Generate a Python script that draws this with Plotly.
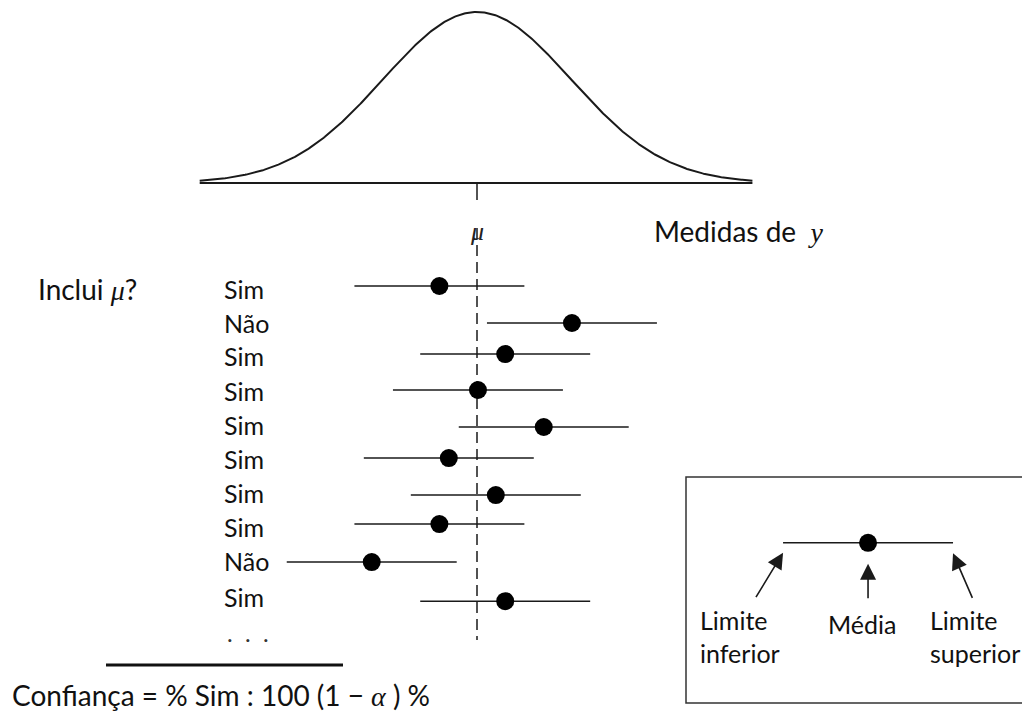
import numpy as np
import plotly.graph_objects as go

# ---------------- data ----------------
mu = 0.0
sigma = 1.0
curve_lo, curve_hi = -2.95, 2.93

row_labels = ["Sim", "Não", "Sim", "Sim", "Sim", "Sim", "Sim", "Sim", "Não", "Sim"]
row_means = [-0.40, 1.01, 0.30, 0.01, 0.71, -0.30, 0.20, -0.40, -1.12, 0.30]
row_pos = [0.0, 1.06, 1.95, 2.98, 4.04, 4.93, 5.99, 6.82, 7.91, 9.03]
label_pos = [0.09, 1.06, 2.0, 3.0, 3.97, 4.96, 5.93, 6.9, 7.88, 8.91]
half_width = 0.904

legend_mean = 4.16
legend_row = 7.36
legend_labels = ["Limite<br>inferior", "Média", "Limite<br>superior"]

dash_top, dash_bottom = -1.66, 10.14

W, H = 1022, 715
UNIT = 94.0      # pixels per x unit
MU_PX = 477.0
FONT = "Lato"
INK = "#111111"

def px(x):
    return x / W

def py(y):
    return 1 - y / H

fig = go.Figure()

# normal curve
xc = np.linspace(curve_lo, curve_hi, 500)
yc = np.exp(-0.5 * ((xc - mu) / sigma) ** 2) / (sigma * np.sqrt(2 * np.pi))
fig.add_trace(go.Scatter(x=xc, y=yc, mode="lines", line=dict(color="#1a1a1a", width=2),
                         xaxis="x", yaxis="y", hoverinfo="skip"))
# baseline
fig.add_trace(go.Scatter(x=[curve_lo, curve_hi], y=[0, 0], mode="lines",
                         line=dict(color="#1a1a1a", width=2), xaxis="x", yaxis="y"))
# tick at mu
fig.add_trace(go.Scatter(x=[mu, mu], y=[0, -0.0397], mode="lines",
                         line=dict(color="#1a1a1a", width=1.5), xaxis="x", yaxis="y"))

# dashed mu line
fig.add_trace(go.Scatter(x=[mu, mu], y=[dash_top, dash_bottom], mode="lines",
                         line=dict(color="#1a1a1a", width=1.5, dash="11px,6px"),
                         xaxis="x", yaxis="y2"))

# intervals
fig.add_trace(go.Scatter(
    x=row_means, y=row_pos, mode="markers",
    marker=dict(color="black", size=18),
    error_x=dict(type="constant", value=half_width, width=0, thickness=1.5, color="#1a1a1a"),
    xaxis="x", yaxis="y2"))

# legend interval
fig.add_trace(go.Scatter(
    x=[legend_mean], y=[legend_row], mode="markers",
    marker=dict(color="black", size=18),
    error_x=dict(type="constant", value=half_width, width=0, thickness=1.5, color="#1a1a1a"),
    xaxis="x", yaxis="y2"))

annotations = []
# row labels
for r, lab in zip(label_pos, row_labels):
    annotations.append(dict(x=px(222), xref="paper", y=r, yref="y2", text=lab,
                            showarrow=False, xanchor="left", yanchor="middle",
                            font=dict(family=FONT, size=25, color=INK)))
annotations.append(dict(x=px(248), xref="paper", y=py(632), yref="paper",
                        text=".\u00a0\u00a0.\u00a0\u00a0.",
                        showarrow=False, xanchor="center", yanchor="middle",
                        font=dict(family=FONT, size=24, color="#333")))

serif_it = "font-family:Liberation Serif;font-style:italic"
annotations += [
    dict(x=px(36), xref="paper", y=py(289), yref="paper",
         text=f"Inclui <span style=\"{serif_it}\">μ</span>?", showarrow=False,
         xanchor="left", yanchor="middle", font=dict(family=FONT, size=28, color=INK)),
    dict(x=mu, xref="x", y=py(232), yref="paper",
         text=f"<span style=\"{serif_it}\">μ</span>", showarrow=False,
         xanchor="center", yanchor="middle", font=dict(family=FONT, size=26, color="#222")),
    dict(x=px(652), xref="paper", y=py(231), yref="paper",
         text=f"Medidas de  <span style=\"{serif_it}\">y</span>", showarrow=False,
         xanchor="left", yanchor="middle", font=dict(family=FONT, size=28, color=INK)),
    dict(x=px(10), xref="paper", y=py(695), yref="paper",
         text=f"Confiança = % Sim : 100 (1 − <span style=\"{serif_it}\">α</span> ) %",
         showarrow=False, xanchor="left", yanchor="middle",
         font=dict(family=FONT, size=28, color=INK)),
]

# legend arrows (head near interval ends / mean)
arrow_heads = [(legend_mean - half_width, legend_row + 0.28, -28, 46),
               (legend_mean, legend_row + 0.6, 0, 36),
               (legend_mean + half_width, legend_row + 0.3, 20, 46)]
for hx, hy, ax, ay in arrow_heads:
    annotations.append(dict(x=hx, xref="x", y=hy, yref="y2", ax=ax, ay=ay,
                            showarrow=True, arrowhead=2, arrowsize=2, arrowwidth=1.6,
                            arrowcolor="#1a1a1a", text=""))
annotations += [
    dict(x=px(698), xref="paper", y=py(636), yref="paper", text=legend_labels[0],
         showarrow=False, xanchor="left", yanchor="middle", align="left",
         font=dict(family=FONT, size=25, color=INK)),
    dict(x=px(862), xref="paper", y=py(624), yref="paper", text=legend_labels[1],
         showarrow=False, xanchor="center", yanchor="middle",
         font=dict(family=FONT, size=25, color=INK)),
    dict(x=px(928), xref="paper", y=py(636), yref="paper", text=legend_labels[2],
         showarrow=False, xanchor="left", yanchor="middle", align="left",
         font=dict(family=FONT, size=25, color=INK)),
]

shapes = [
    dict(type="line", xref="paper", yref="paper", x0=px(106), x1=px(343), y0=py(665), y1=py(665),
         line=dict(color="#111", width=3)),
    dict(type="rect", xref="paper", yref="paper", x0=px(686), x1=1.05, y0=py(703), y1=py(477),
         line=dict(color="#333", width=1.5)),
]

fig.update_layout(
    width=W, height=H, margin=dict(l=0, r=0, t=0, b=0),
    paper_bgcolor="white", plot_bgcolor="white", showlegend=False,
    xaxis=dict(range=[(0 - MU_PX) / UNIT, (W - MU_PX) / UNIT], visible=False, fixedrange=True),
    yaxis=dict(domain=[1 - 200 / H, 1], range=[-0.03966, 0.42694], visible=False),
    yaxis2=dict(domain=[0, 1 - 200 / H], range=[(H - 286) / 34.9, (200 - 286) / 34.9],
                visible=False, anchor="x"),
    annotations=annotations, shapes=shapes,
)

fig.write_html("out.html", config={"displayModeBar": False},
               post_script="document.body.style.margin='0';document.body.style.overflow='hidden';")
